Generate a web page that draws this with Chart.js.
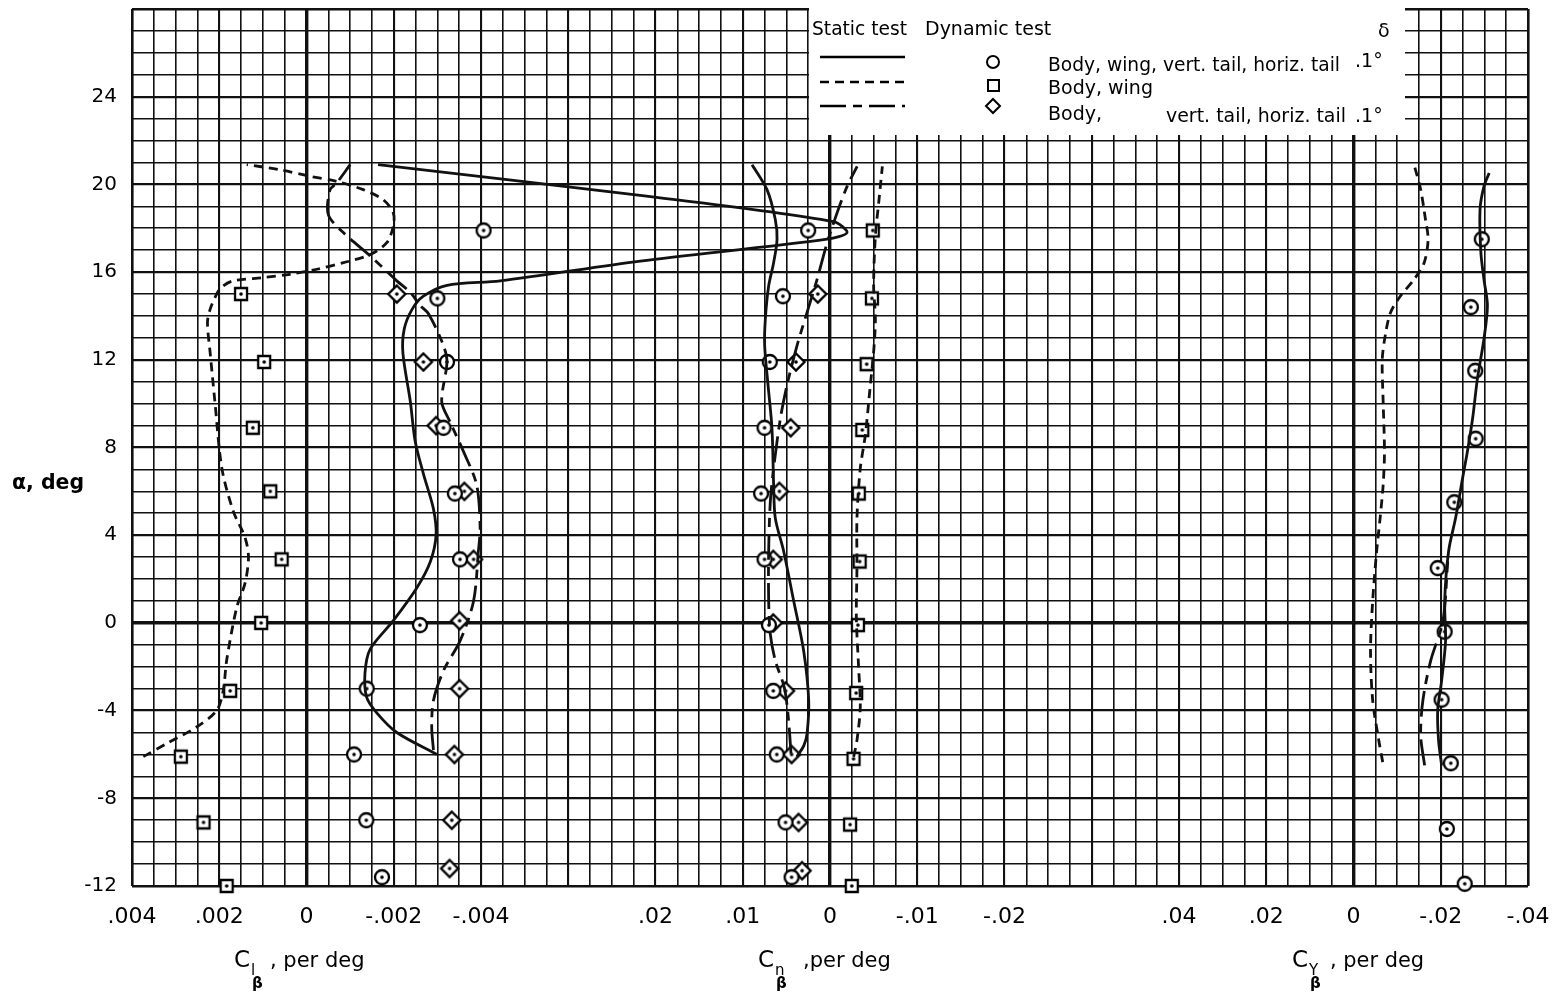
<!DOCTYPE html>
<html>
<head>
<meta charset="utf-8">
<title>Sideslip derivatives vs angle of attack</title>
<script src="https://cdn.jsdelivr.net/npm/chart.js@4.4.1/dist/chart.umd.min.js"></script>
<style>
  body { margin: 0; background: #fff; }
  #wrap { width: 1553px; height: 997px; }
</style>
</head>
<body>
<div id="wrap"><canvas id="chart"></canvas></div>
<script>
// tick labels
const clTicks = [0.004, 0.002, 0, -0.002, -0.004];
const cnTicks = [0.02, 0.01, 0, -0.01, -0.02];
const cyTicks = [0.04, 0.02, 0, -0.02, -0.04];

// dynamic test points (alpha, deg / value per deg)
const clCircleAlpha = [17.9, 14.8, 11.9, 8.9, 5.9, 2.9, -0.1, -3.0, -6.0, -9.0, -11.6];
const clCircle = [-0.00406, -0.0030, -0.00322, -0.00314, -0.0034, -0.00352, -0.0026, -0.00138, -0.00109, -0.00137, -0.00173];
const clSquareAlpha = [15.0, 11.9, 8.9, 6.0, 2.9, 0.0, -3.1, -6.1, -9.1, -12.0];
const clSquare = [0.0015, 0.00097, 0.00123, 0.00083, 0.00057, 0.00104, 0.00175, 0.00288, 0.00236, 0.00183];
const clDiamondAlpha = [15.0, 11.9, 9.0, 6.0, 2.9, 0.1, -3.0, -6.0, -9.0, -11.2];
const clDiamond = [-0.00207, -0.00268, -0.00297, -0.00362, -0.00383, -0.00351, -0.00351, -0.00339, -0.00333, -0.00328];

const cnCircleAlpha = [17.9, 14.9, 11.9, 8.9, 5.9, 2.9, -0.1, -3.1, -6.0, -9.1, -11.6];
const cnCircle = [0.0025, 0.0054, 0.0069, 0.0075, 0.0079, 0.0075, 0.0070, 0.0065, 0.0061, 0.0051, 0.0044];
const cnSquareAlpha = [17.9, 14.8, 11.8, 8.8, 5.9, 2.8, -0.1, -3.2, -6.2, -9.2, -12.0];
const cnSquare = [-0.0049, -0.0048, -0.0042, -0.0037, -0.0033, -0.0034, -0.0032, -0.0030, -0.0027, -0.0023, -0.0025];
const cnDiamondAlpha = [15.0, 11.9, 8.9, 6.0, 2.9, 0.0, -3.1, -6.0, -9.1, -11.3];
const cnDiamond = [0.0014, 0.0039, 0.0045, 0.0058, 0.0065, 0.0065, 0.0051, 0.0044, 0.0036, 0.0032];

const cyCircleAlpha = [17.5, 14.4, 11.5, 8.4, 5.5, 2.5, -0.4, -3.5, -6.4, -9.4, -11.9];
const cyCircle = [-0.0294, -0.0269, -0.0279, -0.0280, -0.0231, -0.0193, -0.0209, -0.0202, -0.0223, -0.0214, -0.0255];

// static test faired curves
const clSolidAlpha = [-6.0, -5.0, -4.1, -3.4, -2.3, -1.2, 0.1, 1.6, 2.8, 4.0, 5.2, 6.8, 8.3, 10.1, 12.3, 13.4, 14.3, 14.9, 15.4, 15.6, 16.5, 17.5, 17.8, 18.3, 19.5, 20.9];
const clSolid = [-0.00299, -0.00207, -0.00161, -0.00138, -0.00134, -0.00146, -0.00199, -0.00253, -0.00284, -0.00297, -0.00291, -0.00268, -0.00249, -0.00238, -0.00221, -0.00224, -0.00242, -0.00268, -0.00322, -0.00444, -0.00765, -0.01193, -0.01239, -0.01208, -0.00765, -0.00164];
const clDashAlpha = [-6.1, -5.5, -4.75, -4.0, -3.1, -1.7, 0.7, 1.8, 3.0, 3.9, 5.1, 7.05, 10.1, 12.35, 13.7, 14.3, 15.07, 15.37, 15.6, 15.75, 15.9, 16.13, 16.43, 16.8, 17.34, 18.1, 18.7, 19.3, 19.76, 20.14, 20.37, 20.67, 20.9];
const clDash = [0.00374, 0.0032, 0.00252, 0.00206, 0.00191, 0.00183, 0.0016, 0.00141, 0.00133, 0.00141, 0.00168, 0.00194, 0.0021, 0.00221, 0.00227, 0.00221, 0.00204, 0.00191, 0.00168, 0.00099, 0.00038, -0.00024, -0.00085, -0.00146, -0.00184, -0.00199, -0.00199, -0.00176, -0.0013, -0.00069, -0.00008, 0.00061, 0.00137];
const clLongAlpha = [-5.8, -4.75, -3.54, -2.18, -0.82, 1.0, 3.27, 4.33, 6.3, 7.81, 9.17, 10.08, 11.89, 12.65, 14.09, 14.47, 15.07, 15.6, 16.74, 17.79, 18.62, 19.76, 20.06, 20.9];
const clLong = [-0.00291, -0.00287, -0.00291, -0.00314, -0.00352, -0.00383, -0.00394, -0.00398, -0.0039, -0.0036, -0.00329, -0.0031, -0.00322, -0.00314, -0.0028, -0.00261, -0.00238, -0.00207, -0.00146, -0.00085, -0.0005, -0.00054, -0.00069, -0.001];

const cnSolidAlpha = [-6.1, -5.6, -5.05, -3.54, -1.27, 1.0, 3.27, 4.78, 6.3, 8.87, 10.84, 12.65, 13.86, 15.37, 16.43, 17.49, 18.4, 19.76, 20.9];
const cnSolid = [0.0038, 0.0030, 0.00263, 0.00244, 0.00302, 0.00416, 0.00531, 0.00627, 0.00646, 0.00665, 0.0071, 0.00749, 0.00741, 0.00703, 0.00646, 0.00607, 0.00627, 0.00722, 0.00893];
const cnDashAlpha = [-6.11, -5.36, -3.84, -2.03, 0.24, 2.51, 4.78, 7.05, 8.57, 10.84, 12.35, 13.86, 15.37, 17.64, 19.16, 20.82];
const cnDash = [-0.00271, -0.00309, -0.00347, -0.00328, -0.00302, -0.00309, -0.00309, -0.00347, -0.00405, -0.00462, -0.005, -0.0052, -0.005, -0.0052, -0.00558, -0.006];
const cnLongAlpha = [-5.96, -4.3, -2.94, -1.72, -0.51, 1.0, 3.27, 5.54, 7.05, 9.32, 10.84, 12.65, 14.16, 15.67, 17.34, 18.7, 19.91, 20.82];
const cnLong = [0.00447, 0.00478, 0.00524, 0.00627, 0.00684, 0.00703, 0.00703, 0.00684, 0.00646, 0.00569, 0.00493, 0.00378, 0.00263, 0.00148, 0.00033, -0.00081, -0.00196, -0.00311];

const cySolidAlpha = [-6.5, -5.36, -4.0, -2.63, -0.82, 1.0, 3.27, 4.78, 6.6, 7.81, 9.32, 11.13, 12.95, 14.47, 15.67, 16.89, 18.85, 19.91, 20.52];
const cySolid = [-0.0202, -0.0195, -0.0193, -0.0202, -0.0211, -0.0209, -0.0218, -0.0234, -0.025, -0.0261, -0.0273, -0.0284, -0.0299, -0.0307, -0.0299, -0.0292, -0.029, -0.0299, -0.0311];
const cyDashAlpha = [-6.35, -5.36, -3.54, -1.27, 1.0, 3.27, 4.78, 6.3, 7.81, 10.08, 12.04, 13.25, 14.16, 14.92, 15.67, 16.43, 17.49, 18.4, 19.76, 20.82];
const cyDash = [-0.0067, -0.0058, -0.0044, -0.0039, -0.0044, -0.0053, -0.0061, -0.0068, -0.0071, -0.0068, -0.0066, -0.0074, -0.0085, -0.0108, -0.0139, -0.0162, -0.0171, -0.0165, -0.0154, -0.014];
const cyLongAlpha = [-6.5, -5.13, -3.54, -1.72, 0.09, 2.8];
const cyLong = [-0.0163, -0.0154, -0.0159, -0.0177, -0.0205, -0.0216];

const INK = '#111';
const FONT = '"DejaVu Sans", sans-serif';
const shortDash = [9, 6];
const longShort = [26, 7, 9, 7];

function pts(alpha, vals) {
  return alpha.map((a, i) => ({ x: vals[i], y: a }));
}

function makeMarker(kind) {
  const c = document.createElement('canvas');
  c.width = 22; c.height = 22;
  const g = c.getContext('2d');
  g.lineWidth = 2.3; g.strokeStyle = '#000'; g.fillStyle = '#fff';
  g.beginPath();
  if (kind === 'circle') g.arc(11, 11, 7, 0, Math.PI * 2);
  else if (kind === 'square') g.rect(5, 5, 12, 12);
  else { g.moveTo(11, 2.5); g.lineTo(19.5, 11); g.lineTo(11, 19.5); g.lineTo(2.5, 11); g.closePath(); }
  g.fill(); g.stroke();
  g.fillStyle = '#000';
  g.beginPath(); g.arc(11, 11, 1.8, 0, Math.PI * 2); g.fill();
  return c;
}
const circleImg = makeMarker('circle');
const squareImg = makeMarker('square');
const diamondImg = makeMarker('diamond');

function curve(label, axis, alpha, vals, dash) {
  return {
    label: label, xAxisID: axis, data: pts(alpha, vals),
    showLine: true, pointRadius: 0, borderColor: INK, borderWidth: 2.8,
    borderDash: dash, tension: 0.3, fill: false, clip: false
  };
}
function marks(label, axis, alpha, vals, img) {
  return {
    label: label, xAxisID: axis, data: pts(alpha, vals),
    showLine: false, pointStyle: img, pointRadius: 8, clip: false
  };
}

function fmt(v, digits) {
  if (Math.abs(v) < 1e-9) return '0';
  return (v < 0 ? '-' : '') + Math.abs(v).toFixed(digits).replace(/^0/, '');
}
function zeroPad(s) {
  s.paddingLeft = 0; s.paddingRight = 0; s.paddingTop = 0; s.paddingBottom = 0;
}

const paperText = {
  id: 'paperText',
  afterLayout(chart) {
    // the Cn and Cy scales share the label row of the Cl scale
    ['xn', 'xy'].forEach(id => {
      const s = chart.scales[id];
      s.height = 111;
      s.bottom = s.top + 111;
    });
  },
  beforeDraw(chart) {
    const ctx = chart.ctx;
    ctx.save();
    ctx.fillStyle = '#fff';
    ctx.fillRect(0, 0, chart.width, chart.height);
    ctx.restore();
  },
  afterDraw(chart) {
    const ctx = chart.ctx;
    ctx.save();
    // legend box
    ctx.fillStyle = '#fff';
    ctx.fillRect(809, 8, 596, 127);
    ctx.fillStyle = '#000';
    ctx.strokeStyle = '#000';
    ctx.textBaseline = 'middle';
    ctx.font = '19px ' + FONT;
    ctx.fillText('Static test', 812, 30, 95);
    ctx.fillText('Dynamic test', 925, 30, 132);
    ctx.fillText('δ', 1378, 32);
    ctx.lineWidth = 2.3;
    [[[], 57], [shortDash, 82], [longShort, 106]].forEach(([d, y]) => {
      ctx.setLineDash(d);
      ctx.beginPath(); ctx.moveTo(820, y); ctx.lineTo(905, y); ctx.stroke();
    });
    ctx.setLineDash([]);
    ctx.lineWidth = 2;
    ctx.beginPath(); ctx.arc(993, 62, 6, 0, Math.PI * 2); ctx.stroke();
    ctx.strokeRect(988, 80, 11, 11);
    ctx.beginPath();
    ctx.moveTo(993, 99); ctx.lineTo(1000, 106); ctx.lineTo(993, 113); ctx.lineTo(986, 106); ctx.closePath();
    ctx.stroke();
    ctx.fillText('Body, wing, vert. tail, horiz. tail', 1048, 66, 292);
    ctx.fillText('.1°', 1355, 62);
    ctx.fillText('Body, wing', 1048, 89, 112);
    ctx.fillText('Body,', 1048, 115, 54);
    ctx.fillText('vert. tail, horiz. tail', 1166, 117, 180);
    ctx.fillText('.1°', 1355, 117);

    // y axis title
    ctx.font = 'bold 22px ' + FONT;
    ctx.fillText('α, deg', 12, 483, 72);

    // x axis titles
    ctx.textBaseline = 'alphabetic';
    function coefTitle(x, sub, tail, tailX, tailW) {
      ctx.font = '23px ' + FONT;
      ctx.fillText('C', x, 967);
      const w = ctx.measureText('C').width;
      ctx.font = '15px ' + FONT;
      ctx.fillText(sub, x + w + 1, 975);
      ctx.font = 'bold 15px ' + FONT;
      ctx.fillText('β', x + w + 2, 988);
      ctx.font = '21px ' + FONT;
      ctx.fillText(tail, tailX, 967, tailW);
    }
    coefTitle(234, 'l', ', per deg', 270, 98);
    coefTitle(758, 'n', ',per deg', 803, 102);
    coefTitle(1292, 'Y', ', per deg', 1330, 94);
    ctx.restore();
  }
};

new Chart(document.getElementById('chart'), {
  type: 'scatter',
  data: {
    datasets: [
      curve('Cl static, body wing vert horiz', 'xl', clSolidAlpha, clSolid, []),
      curve('Cl static, body wing', 'xl', clDashAlpha, clDash, shortDash),
      curve('Cl static, body vert horiz', 'xl', clLongAlpha, clLong, longShort),
      curve('Cn static, body wing vert horiz', 'xn', cnSolidAlpha, cnSolid, []),
      curve('Cn static, body wing', 'xn', cnDashAlpha, cnDash, shortDash),
      curve('Cn static, body vert horiz', 'xn', cnLongAlpha, cnLong, longShort),
      curve('Cy static, body wing vert horiz', 'xy', cySolidAlpha, cySolid, []),
      curve('Cy static, body wing', 'xy', cyDashAlpha, cyDash, shortDash),
      curve('Cy static, body vert horiz', 'xy', cyLongAlpha, cyLong, longShort),
      marks('Cl dynamic, body wing vert horiz', 'xl', clCircleAlpha, clCircle, circleImg),
      marks('Cl dynamic, body wing', 'xl', clSquareAlpha, clSquare, squareImg),
      marks('Cl dynamic, body vert horiz', 'xl', clDiamondAlpha, clDiamond, diamondImg),
      marks('Cn dynamic, body wing vert horiz', 'xn', cnCircleAlpha, cnCircle, circleImg),
      marks('Cn dynamic, body wing', 'xn', cnSquareAlpha, cnSquare, squareImg),
      marks('Cn dynamic, body vert horiz', 'xn', cnDiamondAlpha, cnDiamond, diamondImg),
      marks('Cy dynamic, body wing vert horiz', 'xy', cyCircleAlpha, cyCircle, circleImg)
    ]
  },
  options: {
    responsive: true,
    maintainAspectRatio: false,
    animation: false,
    events: [],
    layout: { padding: { top: 6, right: 25, bottom: 0, left: 0 } },
    plugins: { legend: { display: false }, tooltip: { enabled: false } },
    scales: {
      y: {
        type: 'linear', min: -12, max: 28,
        afterBuildTicks: s => {
          const t = [];
          for (let v = -12; v <= 28; v++) t.push({ value: v });
          s.ticks = t;
        },
        afterFit: s => { s.width = 132; zeroPad(s); },
        ticks: {
          autoSkip: false, padding: 15, color: '#000',
          font: { family: FONT, size: 20 },
          callback: v => (v % 4 === 0 && v <= 24) ? String(v) : ''
        },
        grid: {
          color: INK, drawTicks: false,
          lineWidth: c => {
            if (!c.tick) return 1.6;
            const v = c.tick.value;
            if (v === 0) return 3.4;
            if (v === -12 || v === 28) return 2.6;
            return v % 4 === 0 ? 2.3 : 1.6;
          }
        },
        border: { display: false }
      },
      xl: {
        type: 'linear', position: 'bottom', reverse: true, min: -0.028, max: 0.004, weight: 10,
        afterBuildTicks: s => {
          const t = [];
          for (let i = 0; i <= 64; i++) t.push({ value: +(-0.028 + i * 0.0005).toFixed(5) });
          s.ticks = t;
        },
        afterFit: s => { s.height = 111; zeroPad(s); },
        ticks: {
          autoSkip: false, maxRotation: 0, padding: 18, color: '#000',
          font: { family: FONT, size: 22 },
          callback: v => clTicks.some(t => Math.abs(t - v) < 1e-7) ? fmt(v, 3) : ''
        },
        grid: {
          color: INK, drawTicks: false,
          lineWidth: c => {
            if (!c.tick) return 1.6;
            const cell = Math.round((0.004 - c.tick.value) / 0.0005);
            if (cell === 8 || cell === 32 || cell === 56) return 3.4;
            if (cell === 0 || cell === 64) return 2.6;
            return cell % 4 === 0 ? 2.1 : 1.6;
          }
        },
        border: { display: false }
      },
      xn: {
        type: 'linear', position: 'bottom', reverse: true, min: -0.08, max: 0.08, weight: 0,
        afterBuildTicks: s => { s.ticks = cnTicks.map(v => ({ value: v })); },
        afterFit: s => { s.height = 0; zeroPad(s); },
        ticks: {
          autoSkip: false, maxRotation: 0, padding: 18, color: '#000',
          font: { family: FONT, size: 22 },
          callback: v => fmt(v, 2)
        },
        grid: { display: false, drawTicks: false },
        border: { display: false }
      },
      xy: {
        type: 'linear', position: 'bottom', reverse: true, min: -0.04, max: 0.28, weight: 0,
        afterBuildTicks: s => { s.ticks = cyTicks.map(v => ({ value: v })); },
        afterFit: s => { s.height = 0; zeroPad(s); },
        ticks: {
          autoSkip: false, maxRotation: 0, padding: 18, color: '#000',
          font: { family: FONT, size: 22 },
          callback: v => fmt(v, 2)
        },
        grid: { display: false, drawTicks: false },
        border: { display: false }
      }
    }
  },
  plugins: [paperText]
});
</script>
</body>
</html>
